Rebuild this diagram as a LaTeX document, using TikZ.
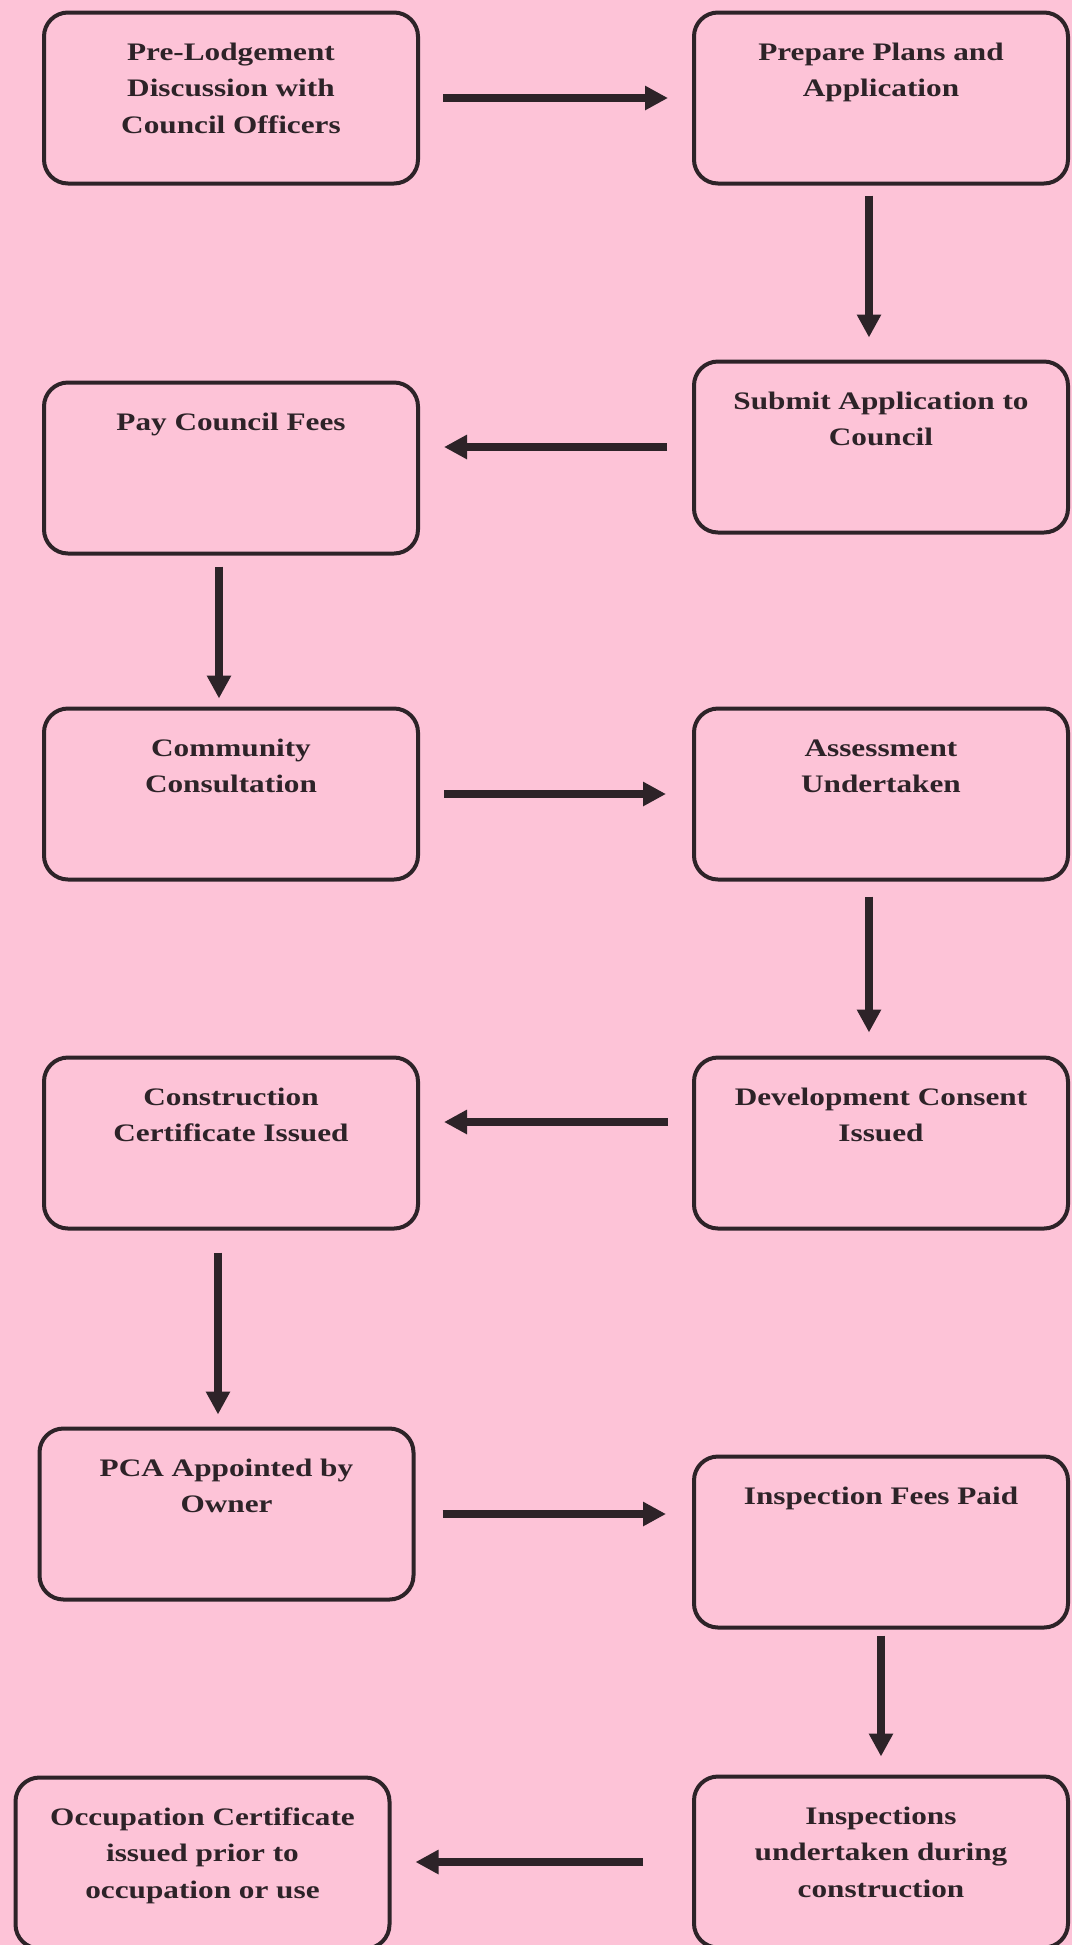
\documentclass[tikz,border=0pt]{standalone}
\usepackage{fontspec}
\setmainfont{Liberation Serif}[FakeStretch=1.24]
\usepackage{xcolor}
\usetikzlibrary{arrows.meta,positioning}
\definecolor{Blush}{HTML}{FDC3D7}
\definecolor{Ink}{HTML}{2D2328}
\newcommand{\steptext}[1]{\parbox[t][63.5pt][t]{181pt}{\centering\strut #1}}

\begin{document}
\begin{tikzpicture}[
  node distance=87pt and 136pt,
  stepbox/.style={draw=Ink,line width=2pt,rounded corners=12pt,text=Ink,
    inner xsep=3pt,inner ysep=11pt,minimum width=187pt,minimum height=85.5pt,
    font=\fontsize{12.6}{18.3}\selectfont\bfseries},
  arrow/.style={-{Triangle[length=11.5pt,width=11.5pt]},line width=3.6pt,draw=Ink}
]
\path[use as bounding box,fill=Blush] (0,0) rectangle (536pt,-972.5pt);
\node[stepbox] at (115.5pt,-49pt) (prelodge) {\steptext{Pre-Lodgement\\Discussion with\\Council Officers}};
\node[stepbox,right=of prelodge] (prepare) {\steptext{Prepare Plans and\\Application}};
\node[stepbox,below=of prepare] (submit) {\steptext{Submit Application to\\Council}};
\node[stepbox,below=97.5pt of prelodge] (payfees) {\steptext{Pay Council Fees}};
\node[stepbox,below=75.5pt of payfees] (consult) {\steptext{Community\\Consultation}};
\node[stepbox,right=of consult] (assess) {\steptext{Assessment\\Undertaken}};
\node[stepbox,below=of consult] (construct) {\steptext{Construction\\Certificate Issued}};
\node[stepbox,right=of construct] (devconsent) {\steptext{Development Consent\\Issued}};
\node[stepbox,below=98pt of construct,xshift=-2.25pt] (pca) {\steptext{PCA Appointed by\\Owner}};
\node[stepbox,below=112pt of devconsent] (feespaid) {\steptext{Inspection Fees Paid}};
\node[stepbox,below=of pca,xshift=-12pt] (occupation) {\steptext{Occupation Certificate\\issued prior to\\occupation or use}};
\node[stepbox,below=72.5pt of feespaid] (inspections) {\steptext{Inspections\\undertaken during\\construction}};
% flow
\draw[arrow,shorten <=11.5pt,shorten >=12pt] (prelodge)--(prepare);
\draw[arrow,shorten <=5pt,shorten >=11pt] ([xshift=-6pt]prepare.south)--([xshift=-6pt]submit.north);
\draw[arrow,shorten <=12.5pt,shorten >=12pt] (submit.west)--(submit.west -| payfees.east);
\draw[arrow,shorten <=5.5pt,shorten >=4pt] ([xshift=-6pt]payfees.south)--([xshift=-6pt]consult.north);
\draw[arrow,shorten <=12pt,shorten >=13pt] (consult)--(assess);
\draw[arrow,shorten <=7.5pt,shorten >=11.5pt] ([xshift=-6pt]assess.south)--([xshift=-6pt]devconsent.north);
\draw[arrow,shorten <=12pt,shorten >=12pt] ([yshift=10.5pt]devconsent.west)--([yshift=10.5pt]construct.east);
\draw[arrow,shorten <=11pt,shorten >=6pt] ([xshift=-6.5pt]construct.south)--([xshift=-6.5pt]construct.south |- pca.north);
\draw[arrow,shorten <=13.5pt,shorten >=13pt] (pca.east)--(pca.east -| feespaid.west);
\draw[arrow,shorten <=3pt,shorten >=9pt] (feespaid)--(inspections);
\draw[arrow,shorten <=24.5pt,shorten >=12pt] (inspections.west)--(inspections.west -| occupation.east);
\end{tikzpicture}
\end{document}
